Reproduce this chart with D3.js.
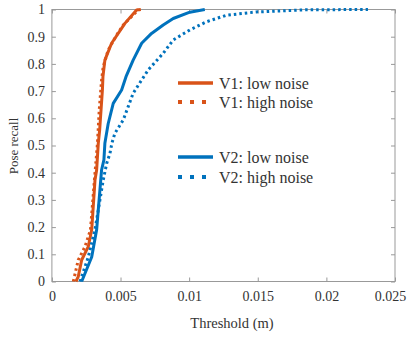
<!DOCTYPE html>
<html>
<head>
<meta charset="utf-8">
<script src="https://cdn.jsdelivr.net/npm/d3@7"></script>
<style>
  body { margin: 0; background: #fff; }
</style>
</head>
<body>
<svg id="chart" width="409" height="339"></svg>
<script>
// threshold (m) / pose recall
const v1LowT = [0.00175, 0.00192, 0.00217, 0.00265, 0.00290, 0.00314, 0.00326, 0.00338, 0.00348, 0.00368, 0.00372, 0.00386, 0.00435, 0.00532, 0.00617, 0.00648]
const v1LowR = [0, 0.018, 0.079, 0.128, 0.19, 0.373, 0.41, 0.508, 0.557, 0.704, 0.753, 0.814, 0.876, 0.949, 0.998, 1]
const v1HighT = [0.00156, 0.00192, 0.00241, 0.00281, 0.00310, 0.00332, 0.00345, 0.00362, 0.00374, 0.00410, 0.00472, 0.00520, 0.00592, 0.00634]
const v1HighR = [0, 0.079, 0.128, 0.19, 0.373, 0.508, 0.63, 0.74, 0.79, 0.851, 0.906, 0.943, 0.98, 1]
const v2LowT = [0.00217, 0.00290, 0.00326, 0.00362, 0.00379, 0.00386, 0.00410, 0.00447, 0.00508, 0.00540, 0.00592, 0.00654, 0.00726, 0.00811, 0.00884, 0.01005, 0.01114]
const v2LowR = [0, 0.09, 0.19, 0.41, 0.447, 0.508, 0.58, 0.655, 0.704, 0.753, 0.814, 0.876, 0.912, 0.943, 0.967, 0.99, 1]
const v2HighT = [0.00205, 0.00265, 0.00314, 0.00374, 0.00399, 0.00423, 0.00437, 0.00459, 0.00520, 0.00556, 0.00592, 0.00640, 0.00702, 0.00811, 0.00884, 0.01005, 0.01127, 0.01272, 0.01490, 0.01854, 0.02303]
const v2HighR = [0, 0.09, 0.19, 0.373, 0.434, 0.471, 0.508, 0.545, 0.594, 0.643, 0.692, 0.73, 0.778, 0.839, 0.888, 0.925, 0.955, 0.979, 0.991, 0.999, 1]

const xTicks = [0, 0.005, 0.01, 0.015, 0.02, 0.025]
const yTicks = [0, 0.1, 0.2, 0.3, 0.4, 0.5, 0.6, 0.7, 0.8, 0.9, 1]

const series = [
  { name: 'V1: low noise', t: v1LowT, r: v1LowR, color: '#D95319', dotted: false },
  { name: 'V1: high noise', t: v1HighT, r: v1HighR, color: '#D95319', dotted: true },
  { name: 'V2: low noise', t: v2LowT, r: v2LowR, color: '#0072BD', dotted: false },
  { name: 'V2: high noise', t: v2HighT, r: v2HighR, color: '#0072BD', dotted: true },
]

const font = '"Liberation Serif"'
const textColor = '#333'
const svg = d3.select('#chart')
const x = d3.scaleLinear().domain([0, 0.025]).range([51.9, 395])
const y = d3.scaleLinear().domain([0, 1]).range([281.5, 9.5])
const axisColor = '#999'

// box
svg.append('rect')
  .attr('x', x(0)).attr('y', y(1))
  .attr('width', x(0.025) - x(0)).attr('height', y(0) - y(1))
  .attr('fill', 'none').attr('stroke', axisColor).attr('stroke-width', 1)

// axes with inner ticks
function styleAxis(g) {
  g.select('.domain').remove()
  g.selectAll('.tick line').attr('stroke', axisColor)
  g.selectAll('.tick text')
    .style('font-family', font)
    .style('font-size', '14px')
    .attr('fill', textColor)
}
svg.append('g').attr('transform', `translate(0,${y(0)})`)
  .call(d3.axisBottom(x).tickValues(xTicks).tickSizeInner(-4).tickSizeOuter(0).tickPadding(10).tickFormat(d3.format('')))
  .call(styleAxis)
  .call(g => g.selectAll('.tick text').filter(d => d === 0.025).attr('dx', -5))
svg.append('g').attr('transform', `translate(0,${y(1)})`)
  .call(d3.axisTop(x).tickValues(xTicks).tickSizeInner(-4).tickSizeOuter(0).tickFormat(''))
  .call(styleAxis)
svg.append('g').attr('transform', `translate(${x(0)},0)`)
  .call(d3.axisLeft(y).tickValues(yTicks).tickSizeInner(-4).tickSizeOuter(0).tickPadding(7).tickFormat(d3.format('')))
  .call(styleAxis)
svg.append('g').attr('transform', `translate(${x(0.025)},0)`)
  .call(d3.axisRight(y).tickValues(yTicks).tickSizeInner(-4).tickSizeOuter(0).tickFormat(''))
  .call(styleAxis)

// curves
const line = d3.line().x(d => x(d[0])).y(d => y(d[1]))
series.forEach(s => {
  svg.append('path')
    .datum(d3.zip(s.t, s.r))
    .attr('d', line)
    .attr('fill', 'none')
    .attr('stroke', s.color)
    .attr('stroke-width', 3)
    .attr('stroke-linejoin', 'round')
    .attr('stroke-dasharray', s.dotted ? '2.5,3' : null)
})

// legend
const legendY = [83, 102, 157, 177]
series.forEach((s, i) => {
  const g = svg.append('g').attr('transform', `translate(0,${legendY[i]})`)
  g.append('line')
    .attr('x1', 178).attr('x2', s.dotted ? 207 : 213)
    .attr('stroke', s.color).attr('stroke-width', s.dotted ? 4 : 3.5)
    .attr('stroke-dasharray', s.dotted ? '4,8' : null)
  g.append('text')
    .attr('x', 219).attr('dy', '0.35em')
    .style('font-family', font).style('font-size', '16px')
    .attr('fill', textColor)
    .text(s.name)
})

// axis titles
svg.append('text')
  .attr('x', 232).attr('y', 328)
  .attr('text-anchor', 'middle')
  .style('font-family', font).style('font-size', '14.5px')
  .attr('fill', textColor)
  .text('Threshold (m)')
svg.append('text')
  .attr('transform', 'translate(18,146) rotate(-90)')
  .attr('text-anchor', 'middle')
  .style('font-family', font).style('font-size', '13px')
  .attr('fill', textColor)
  .text('Pose recall')
</script>
</body>
</html>
